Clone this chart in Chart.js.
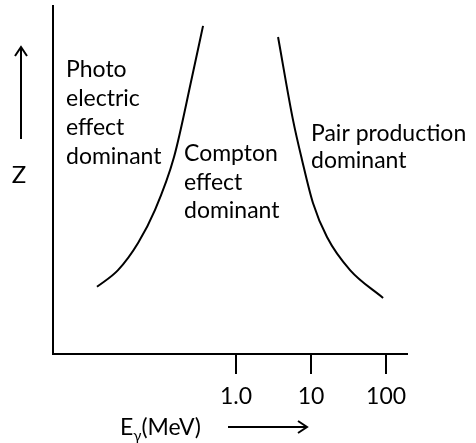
<!DOCTYPE html>
<html>
<head>
<meta charset="utf-8">
<script src="https://cdn.jsdelivr.net/npm/chart.js@4.4.1/dist/chart.umd.min.js"></script>
<style>
    html, body { margin: 0; padding: 0; background: #fff; }
    canvas { display: block; }
</style>
</head>
<body>
<canvas id="chart" width="476" height="443"></canvas>
<script>
    // boundary curves, E in MeV (log axis), Z in arbitrary units 0-100
    var photoComptonE = [0.014, 0.0267, 0.0494, 0.0832, 0.149, 0.259, 0.363];
    var photoComptonZ = [19.3, 24.1, 31.9, 41.4, 56.6, 79.6, 94.3];
    var comptonPairE = [3.63, 5.75, 7.59, 10.6, 16.3, 33.1, 91.2];
    var comptonPairZ = [91.1, 67.2, 55.7, 43.4, 33.6, 24.1, 16.1];

    var tickValues = [1, 10, 100];
    var tickLabels = ['1.0', '10', '100'];

    var photoText = ['Photo', 'electric', 'effect', 'dominant'];
    var comptonText = ['Compton', 'effect', 'dominant'];
    var pairText = ['Pair production', 'dominant'];

    var FONT = 'Lato, "Open Sans", sans-serif';

    function toPoints(xs, ys) {
        return xs.map(function (x, i) {
            return { x: x, y: ys[i] };
        });
    }

    function drawLines(ctx, lines, x, y, step) {
        lines.forEach(function (t, i) {
            ctx.fillText(t, x, y + i * step);
        });
    }

    function arrowHead(ctx, x, y, dir) {
        ctx.beginPath();
        if (dir === 'up') {
            ctx.moveTo(x - 6, y + 9);
            ctx.lineTo(x, y);
            ctx.lineTo(x + 6, y + 9);
        } else {
            ctx.moveTo(x - 9, y - 6);
            ctx.lineTo(x, y);
            ctx.lineTo(x - 9, y + 6);
        }
        ctx.stroke();
    }

    var annotations = {
        id: 'annotations',
        afterDraw: function (chart) {
            var ctx = chart.ctx;
            ctx.save();
            ctx.fillStyle = '#000';
            ctx.strokeStyle = '#000';
            ctx.lineWidth = 2;
            ctx.textBaseline = 'alphabetic';
            ctx.textAlign = 'left';
            ctx.font = '23px ' + FONT;

            drawLines(ctx, photoText, 66, 77, 29);
            drawLines(ctx, comptonText, 184, 161, 28.5);
            drawLines(ctx, pairText, 311, 141, 27);

            // Z axis name with arrow
            ctx.textAlign = 'center';
            ctx.textBaseline = 'middle';
            ctx.font = '24px ' + FONT;
            ctx.fillText('Z', 19, 175);
            ctx.beginPath();
            ctx.moveTo(21, 139);
            ctx.lineTo(21, 48);
            ctx.stroke();
            arrowHead(ctx, 21, 47, 'up');

            // energy axis name with arrow
            ctx.textAlign = 'left';
            ctx.textBaseline = 'alphabetic';
            var x = 120;
            ctx.font = '23px ' + FONT;
            ctx.fillText('E', x, 435);
            x += ctx.measureText('E').width;
            ctx.font = '15px ' + FONT;
            ctx.fillText('\u03b3', x, 441);
            x += ctx.measureText('\u03b3').width;
            ctx.font = '23px ' + FONT;
            ctx.fillText('(MeV)', x, 435);

            ctx.beginPath();
            ctx.moveTo(228, 427);
            ctx.lineTo(306, 427);
            ctx.stroke();
            arrowHead(ctx, 307, 427, 'right');
            ctx.restore();
        }
    };

    var lineStyle = {
        borderColor: '#000',
        borderWidth: 2,
        pointRadius: 0,
        showLine: true,
        fill: false,
        cubicInterpolationMode: 'monotone',
        clip: false
    };

    new Chart(document.getElementById('chart'), {
        type: 'scatter',
        data: {
            datasets: [
                Object.assign({ data: toPoints(photoComptonE, photoComptonZ) }, lineStyle),
                Object.assign({ data: toPoints(comptonPairE, comptonPairZ) }, lineStyle)
            ]
        },
        options: {
            responsive: false,
            animation: false,
            devicePixelRatio: 1,
            layout: { padding: { left: 53, right: 69, top: 6, bottom: 0 } },
            plugins: {
                legend: { display: false },
                tooltip: { enabled: false }
            },
            scales: {
                x: {
                    type: 'logarithmic',
                    min: 0.00363,
                    max: 190,
                    afterBuildTicks: function (scale) {
                        scale.ticks = tickValues.map(function (v) {
                            return { value: v };
                        });
                    },
                    afterFit: function (scale) {
                        scale.height = 89;
                    },
                    border: { display: true, color: '#000', width: 2 },
                    grid: {
                        drawOnChartArea: false,
                        drawTicks: true,
                        tickLength: 20,
                        color: '#000',
                        lineWidth: 2
                    },
                    ticks: {
                        autoSkip: false,
                        maxRotation: 0,
                        padding: 9,
                        color: '#000',
                        font: { family: FONT, size: 23 },
                        callback: function (value, index) {
                            return tickLabels[index];
                        }
                    }
                },
                y: {
                    min: 0,
                    max: 100,
                    afterFit: function (scale) {
                        scale.width = 0;
                    },
                    border: { display: true, color: '#000', width: 2 },
                    grid: { drawOnChartArea: false, drawTicks: false },
                    ticks: { display: false }
                }
            }
        },
        plugins: [annotations]
    });
</script>
</body>
</html>
